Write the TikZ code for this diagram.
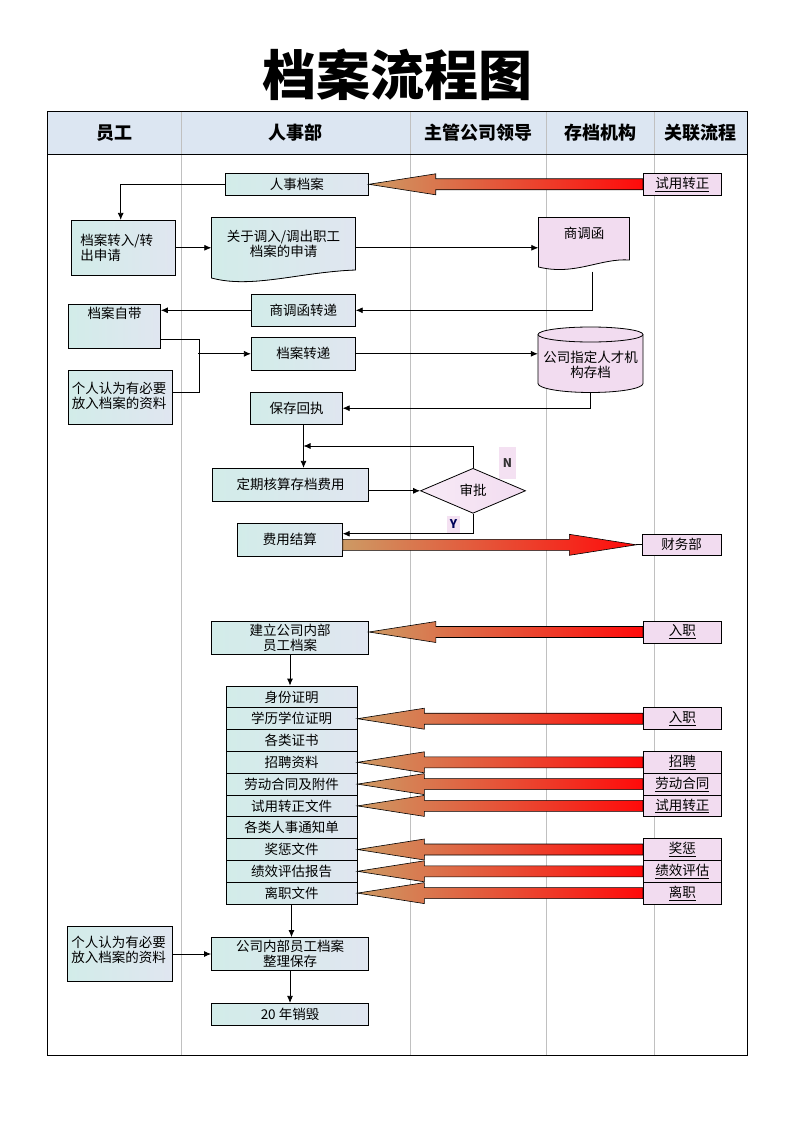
\documentclass[tikz,border=0pt]{standalone}
\usepackage{fontspec}
\setmainfont{Noto Sans CJK SC}
\usetikzlibrary{shapes.geometric,arrows.meta,calc}

\definecolor{hdrblue}{HTML}{DCE6F2}
\definecolor{boxcyan}{HTML}{D2ECE9}
\definecolor{boxblue}{HTML}{E0E6F0}
\definecolor{linkpink}{HTML}{F2DCF0}
\definecolor{arrtan}{HTML}{CD9A64}
\definecolor{arrred}{HTML}{FF0A0A}
\definecolor{lanegray}{HTML}{C0C0C0}

\newcommand{\flowfont}{\fontsize{13.5}{15}\selectfont}
\newcommand{\lanefont}{\fontsize{18}{20}\selectfont\bfseries}
\newcommand{\bigtitlefont}{\fontsize{54}{60}\selectfont\bfseries}

% fat shaded arrow: #1 tail, #2 tip
\newcommand{\fatarrow}[2]{%
	\path[fatarr] let \p1=(#1), \p2=(#2), \n1={sign(\x1-\x2)} in
		(\p2) -- (\x2+\n1*67pt,\y2+10.5pt) -- (\x2+\n1*67pt,\y2+5.5pt) -- (\x1,\y2+5.5pt)
		-- (\x1,\y2-5.5pt) -- (\x2+\n1*67pt,\y2-5.5pt) -- (\x2+\n1*67pt,\y2-10.5pt) -- cycle;}

\begin{document}
\begin{tikzpicture}[x=1pt,y=-1pt,
	box/.style={rectangle, draw=black, line width=0.8pt, left color=boxcyan, right color=boxblue, inner sep=1pt, align=center, font=\flowfont},
	link/.style={rectangle, draw=black, line width=0.8pt, fill=linkpink, inner sep=1pt, minimum width=78pt, minimum height=22pt, font=\flowfont},
	item/.style={box, minimum width=131pt, minimum height=21.8pt},
	lane/.style={font=\lanefont},
	yn/.style={fill=linkpink!85, inner sep=0pt, font=\fontsize{12}{14}\selectfont\bfseries},
	flow/.style={line width=0.8pt, ->},
	fatarr/.style={draw=black, line width=0.6pt, left color=arrtan, right color=arrred},
	node distance=21.8pt, >={Latex[length=7pt,width=6pt]}]

	\useasboundingbox (0,0) rectangle (794,1123);

	%Table
	\fill[hdrblue] (47,112) rectangle (747,154);
	\draw[lanegray, line width=0.8pt] (181,112) -- (181,1055);
	\draw[lanegray, line width=0.8pt] (410,112) -- (410,1055);
	\draw[lanegray, line width=0.8pt] (546,112) -- (546,1055);
	\draw[lanegray, line width=0.8pt] (654,112) -- (654,1055);
	\draw[line width=1pt] (47,112) rectangle (747,1055);
	\draw[line width=0.8pt] (47,154) -- (747,154);

	%Title and lanes
	\node[font=\bigtitlefont] (title) at (397,75) {档案流程图};
	\node[lane] (yg)   at (114,133)   {员工};
	\node[lane] (rsb)  at (295.5,133) {人事部};
	\node[lane] (ld)   at (478,133)   {主管公司领导};
	\node[lane] (cdjg) at (600,133)   {存档机构};
	\node[lane] (gllc) at (700.5,133) {关联流程};

	%Shapes
	\filldraw[line width=0.8pt, left color=boxcyan, right color=boxblue] (211.5,217.5) -- (355.5,217.5) -- (355.5,270)
		.. controls (300,272) and (252,289) .. (211.5,278) -- cycle;
	\filldraw[line width=0.8pt, fill=linkpink] (538.5,217.5) -- (629.5,217.5) -- (629.5,260)
		.. controls (600,258) and (575,276) .. (538.5,267) -- cycle;
	\filldraw[line width=0.8pt, fill=linkpink] (538,334.5) -- (538,383.5) arc[start angle=180, end angle=360, x radius=52.5pt, y radius=9pt]
		-- (643,334.5) arc[start angle=0, end angle=180, x radius=52.5pt, y radius=7.5pt] -- cycle;
	\draw[line width=0.8pt] (538,334.5) arc[start angle=180, end angle=360, x radius=52.5pt, y radius=7.5pt];

	%Nodes
	\node[box, minimum width=143pt, minimum height=22pt] (rsda) at (296.8,184.3) {人事档案};
	\node[link] (sy1) at (682.3,184.3) {\underline{试用转正}};
	\node[box, minimum width=104pt, minimum height=55pt, align=left, text width=86pt] (zhuanru) at (123.3,247.8) {档案转入/转\\出申请};
	\node[align=center, font=\flowfont, minimum width=144pt, minimum height=53pt] (shenqing) at (283.5,243.5) {关于调入/调出职工\\档案的申请};
	\node[font=\flowfont, minimum width=91pt, minimum height=43pt, text depth=12.7pt] (shdh) at (584,238.8) {商调函};
	\node[box, minimum width=104pt, minimum height=31.5pt] (zdj) at (303.3,310.3) {商调函转递};
	\node[box, minimum width=92pt, minimum height=44pt, text depth=27pt] (zidai) at (114.5,326) {档案自带};
	\node[box, minimum width=104pt, minimum height=54pt, align=left, text width=97pt, text depth=19.7pt] (geren1) at (120.3,397.2) {个人认为有必要\\放入档案的资料};
	\node[box, minimum width=104pt, minimum height=33pt] (zd) at (303.3,353.8) {档案转递};
	\node[align=center, font=\flowfont, minimum width=105pt, minimum height=65pt, text height=38pt] (cun) at (590.5,359.5) {公司指定人才机\\构存档};
	\node[box, minimum width=91.5pt, minimum height=32pt] (bc) at (296.5,408.2) {保存回执};
	\node[box, minimum width=156pt, minimum height=33pt] (dq) at (290.5,484.8) {定期核算存档费用};
	\node[diamond, draw=black, line width=0.8pt, left color=linkpink!60!white, right color=linkpink, inner sep=0pt,
		minimum width=105pt, minimum height=45pt, font=\flowfont] (sp) at (473,490.8) {审批};
	\node[yn, text=black!80, minimum width=17pt, minimum height=32pt] (nlab) at (507.5,463) {N};
	\node[yn, text=blue!35!black, minimum width=13pt, minimum height=17pt] (ylab) at (453.5,524.5) {Y};
	\node[box, minimum width=105pt, minimum height=32.7pt] (fy) at (289.8,539.7) {费用结算};
	\node[link, minimum width=79pt, minimum height=20.5pt] (cw) at (681.7,544.8) {财务部};

	\node[box, minimum width=157pt, minimum height=33pt] (jl) at (290,637.5) {建立公司内部\\员工档案};
	\node[link] (rz1) at (682.3,632) {\underline{入职}};

	\node[item] (l1) at (291.5,696.9) {身份证明};
	\node[item] (l2)  [below of=l1] {学历学位证明};
	\node[item] (l3)  [below of=l2] {各类证书};
	\node[item] (l4)  [below of=l3] {招聘资料};
	\node[item] (l5)  [below of=l4] {劳动合同及附件};
	\node[item] (l6)  [below of=l5] {试用转正文件};
	\node[item] (l7)  [below of=l6] {各类人事通知单};
	\node[item] (l8)  [below of=l7] {奖惩文件};
	\node[item] (l9)  [below of=l8] {绩效评估报告};
	\node[item] (l10) [below of=l9] {离职文件};

	\node[link, minimum height=21.8pt] (rz2) at (l2 -| sy1) {\underline{入职}};
	\node[link, minimum height=21.8pt] (zp)  at (l4 -| sy1) {\underline{招聘}};
	\node[link, minimum height=21.8pt] (ldht) at (l5 -| sy1) {\underline{劳动合同}};
	\node[link, minimum height=21.8pt] (sy2) at (l6 -| sy1) {\underline{试用转正}};
	\node[link, minimum height=21.8pt] (jc)  at (l8 -| sy1) {\underline{奖惩}};
	\node[link, minimum height=21.8pt] (jx)  at (l9 -| sy1) {\underline{绩效评估}};
	\node[link, minimum height=21.8pt] (lz)  at (l10 -| sy1) {\underline{离职}};

	\node[box, minimum width=105pt, minimum height=54.6pt, align=left, text width=97pt, text depth=23.7pt] (geren2) at (119.8,954) {个人认为有必要\\放入档案的资料};
	\node[box, minimum width=157pt, minimum height=33pt] (zl) at (290,954) {公司内部员工档案\\整理保存};
	\node[box, minimum width=157pt, minimum height=22pt] (xh) at (290,1014.3) {20 年销毁};

	%Lines
	\draw[flow] (rsda.west) -| ([xshift=-2.6pt]zhuanru.north);
	\draw[flow] (zhuanru.east) -- (zhuanru.east -| shenqing.west);
	\draw[flow] (zhuanru.east -| shenqing.east) -- (zhuanru.east -| shdh.west);
	\draw[flow] ([xshift=8pt,yshift=-11pt]shdh.south) |- (zdj.east);
	\draw[flow] (zdj.west) -- (zdj.west -| zidai.east);
	\draw[line width=0.8pt] ([yshift=-13pt]zidai.east) -- ++(38,0) |- ([yshift=5pt]geren1.east);
	\coordinate (jn) at (198,0);
	\draw[flow] (jn |- zd.west) -- (zd.west);
	\draw[flow] (zd.east) -- (zd.east -| cun.west);
	\draw[flow] (cun.south) |- (bc.east);
	\draw[flow] ([xshift=7pt]bc.south) -- ([xshift=7pt]bc.south |- dq.north);
	\coordinate (lp) at (303.5,446);
	\draw[flow] (sp.north) |- (lp);
	\draw[flow] (sp.west -| dq.east) -- (sp.west);
	\draw[flow] (sp.south) |- ([yshift=6pt]fy.east);
	\draw[flow] (jl.south) -- (jl.south |- l1.north);
	\draw[flow] (l10.south) -- (l10.south |- zl.north);
	\draw[flow] (geren2.east) -- (geren2.east -| zl.west);
	\draw[flow] (zl.south) -- (xh.north);

	%Fat arrows
	\fatarrow{sy1.west}{rsda.east |- sy1.west}
	\fatarrow{fy.east}{[xshift=-5.5pt]cw.west}
	\draw[line width=0.8pt] ([xshift=-5.5pt]cw.west) -- (cw.west);
	\fatarrow{rz1.west}{jl.east |- rz1.west}
	\fatarrow{rz2.west}{l2.east}
	\fatarrow{zp.west}{l4.east}
	\fatarrow{ldht.west}{l5.east}
	\fatarrow{sy2.west}{l6.east}
	\fatarrow{jc.west}{l8.east}
	\fatarrow{jx.west}{l9.east}
	\fatarrow{lz.west}{l10.east}
\end{tikzpicture}
\end{document}
